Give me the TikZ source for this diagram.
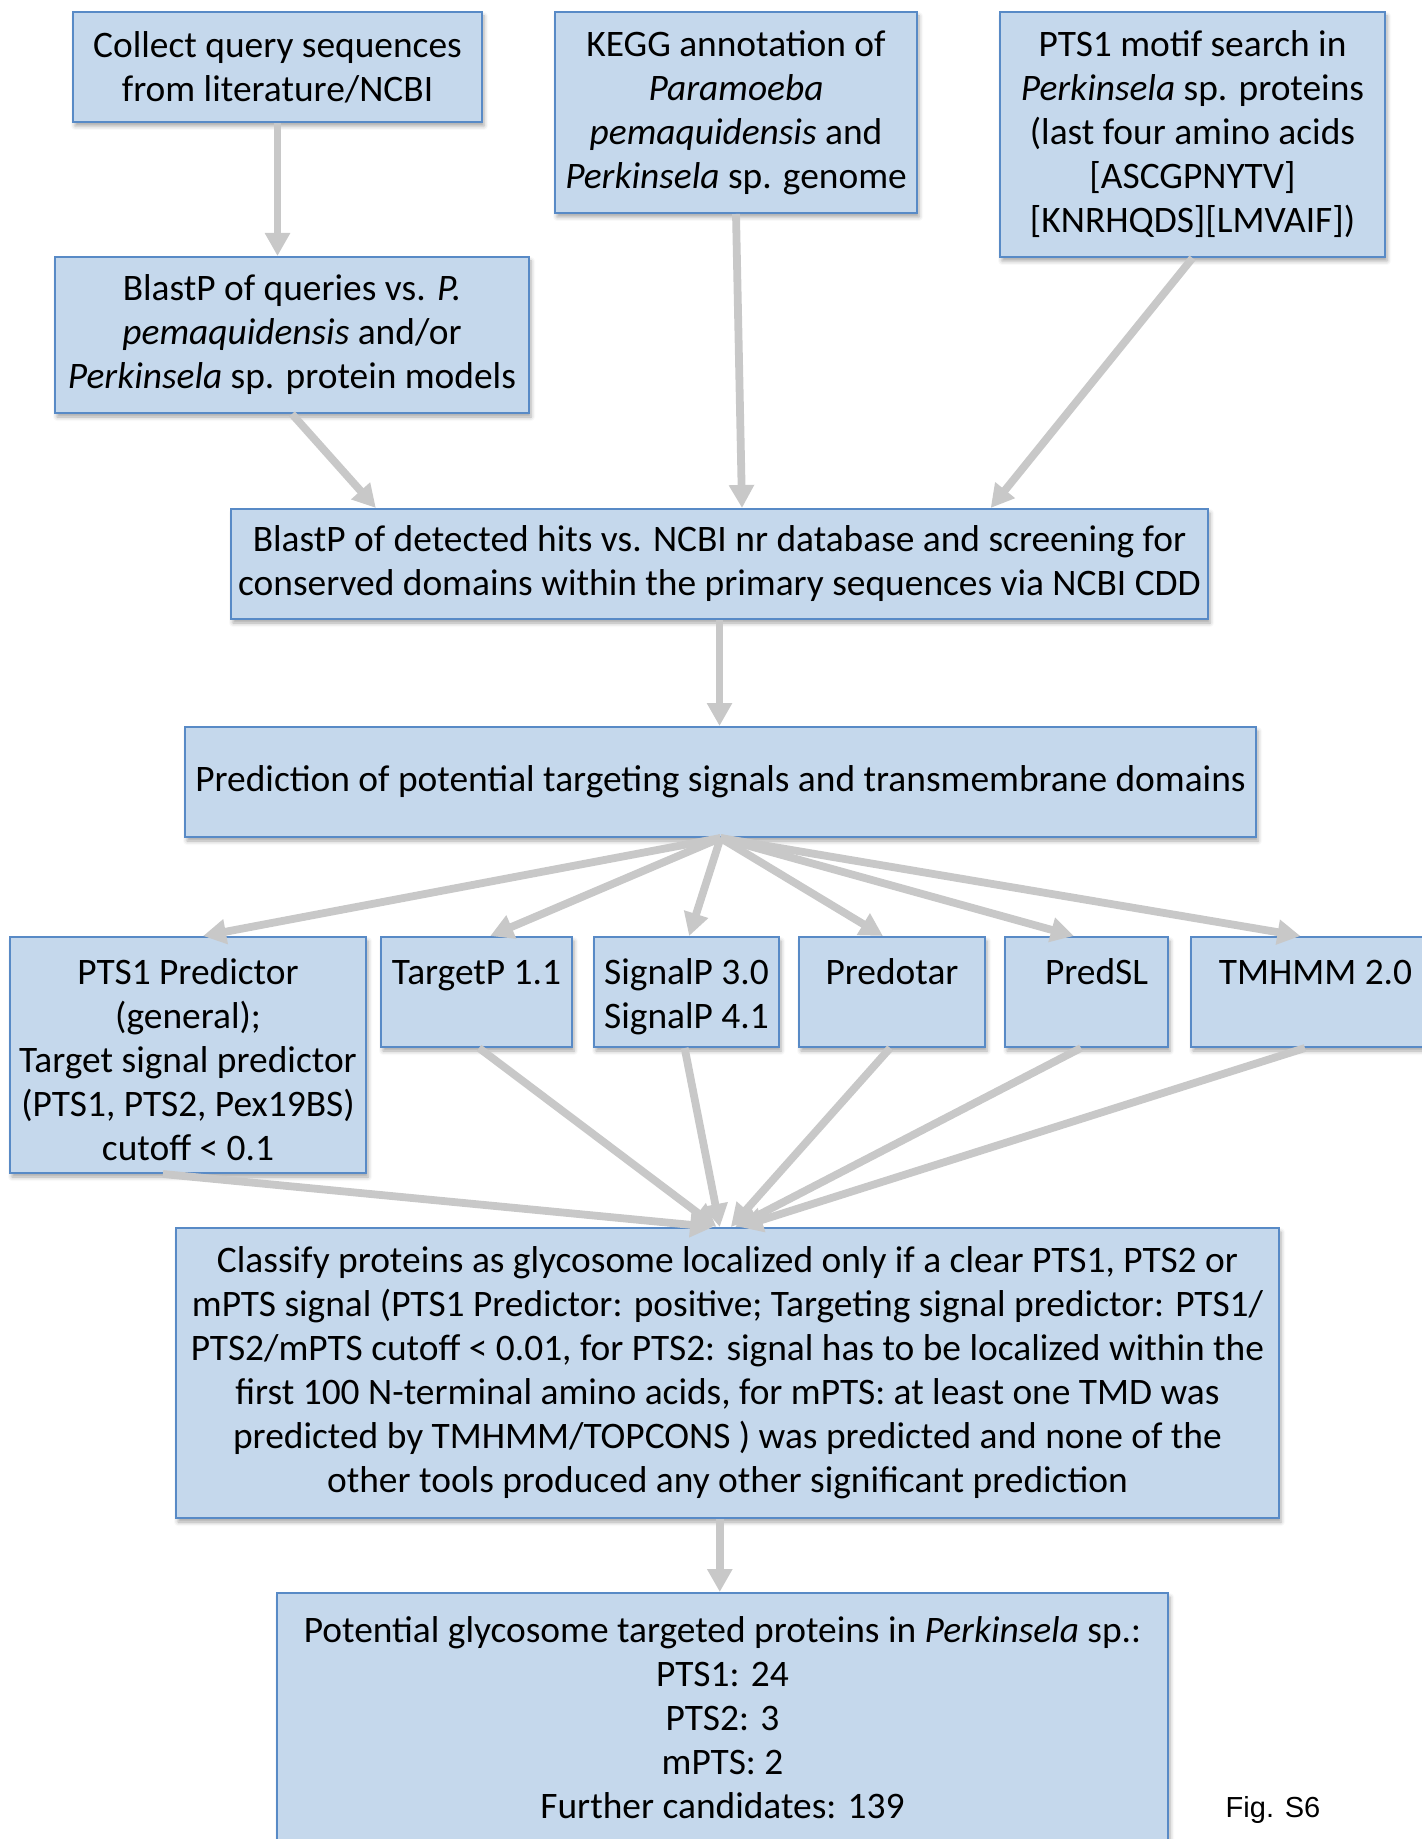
\documentclass[tikz,border=0pt]{standalone}
\usepackage{fontspec}
\setmainfont{Carlito}
\newfontfamily\figfont{Liberation Sans}
\usetikzlibrary{arrows.meta,calc,shadows.blur}

\definecolor{boxfill}{RGB}{197,216,236}
\definecolor{boxline}{RGB}{88,138,198}
\definecolor{arrowgray}{RGB}{200,200,200}

% top-aligned text block for the tool boxes: height, width, text
\newcommand\toptext[3]{\parbox[t][#1][t]{#2}{\centering\rule{0pt}{23.7pt}#3}}

\begin{document}
\begin{tikzpicture}[x=0.5pt,y=-0.5pt,
  box/.style={draw=boxline, fill=boxfill, line width=1pt, inner sep=0pt,
    align=center, font=\fontsize{18.7}{22}\selectfont,
    blur shadow={shadow xshift=1pt, shadow yshift=-2pt, shadow blur radius=2pt, shadow opacity=35}},
  tool/.style={box, anchor=north, minimum height=55pt},
  arr/.style={draw=arrowgray, line width=3.9pt,
    -{Triangle[width=12pt,length=11.5pt]}}]
\useasboundingbox (0,0) rectangle (1421,1839);

% top row
\node[box, minimum width=204.5pt, minimum height=55pt] (A) at (277.5,67)
  {Collect query sequences\\from literature/NCBI};
\node[box, minimum width=237pt, minimum height=78pt] (B) at (292,335)
  {BlastP of queries vs. \textit{P.}\\\textit{pemaquidensis} and/or\\\textit{Perkinsela} sp. protein models};
\node[box, minimum width=181pt, minimum height=100.5pt] (C) at (736,112.5)
  {KEGG annotation of\\\textit{Paramoeba}\\\textit{pemaquidensis} and\\\textit{Perkinsela} sp. genome};
\node[box, minimum width=192.5pt, minimum height=122.5pt] (D) at (1192.5,134.5)
  {PTS1 motif search in\\\textit{Perkinsela} sp. proteins\\(last four amino acids\\{}[ASCGPNYTV]\\{}[KNRHQDS][LMVAIF])};

% screening and prediction
\node[box, minimum width=488.5pt, minimum height=55pt] (E) at (719.5,564)
  {BlastP of detected hits vs. NCBI nr database and screening for\\conserved domains within the primary sequences via NCBI CDD};
\node[box, minimum width=535.5pt, minimum height=55pt] (F) at (720.5,782)
  {Prediction of potential targeting signals and transmembrane domains};

% prediction tools
\node[tool] (t1) at (188,936) {\toptext{118pt}{178pt}{PTS1 Predictor\\(general);\\Target signal predictor\\(PTS1, PTS2, Pex19BS)\\cutoff < 0.1}};
\node[tool] (t2) at (476.5,936) {\toptext{55pt}{95.5pt}{TargetP 1.1}};
\node[tool] (t3) at (686.5,936) {\toptext{55pt}{92.5pt}{SignalP 3.0\\SignalP 4.1}};
\node[tool] (t4) at (892,936) {\toptext{55pt}{93pt}{Predotar}};
\node[tool] (t5) at (1086.5,936) {\toptext{55pt}{81.5pt}{\hspace*{10pt}PredSL}};
\node[tool] (t6) at (1315.5,936) {\toptext{55pt}{124.5pt}{TMHMM 2.0}};

% classification and result
\node[box, minimum width=551.5pt, minimum height=145pt] (G) at (727.5,1373)
  {Classify proteins as glycosome localized only if a clear PTS1, PTS2 or\\
   mPTS signal (PTS1 Predictor: positive; Targeting signal predictor: PTS1/\\
   PTS2/mPTS cutoff < 0.01, for PTS2: signal has to be localized within the\\
   first 100 N-terminal amino acids, for mPTS: at least one TMD was\\
   predicted by TMHMM/TOPCONS ) was predicted and none of the\\
   other tools produced any other significant prediction};
\node[box, minimum width=445.5pt, minimum height=125pt] (H) at (722.5,1718)
  {Potential glycosome targeted proteins in \textit{Perkinsela} sp.:\\PTS1: 24\\PTS2: 3\\mPTS: 2\\Further candidates: 139};

\node[font=\figfont\fontsize{14.5}{17}\selectfont] (fig) at (1273,1810) {Fig. S6};

% connectors
\draw[arr] (A.south) -- (A.south |- B.north);
\draw[arr] (B.south) -- ($(E.north west)!0.149!(E.north east)$);
\draw[arr] (C.south) -- ($(E.north west)!0.523!(E.north east)$);
\draw[arr] (D.south) -- ($(E.north west)!0.777!(E.north east)$);
\draw[arr] (E.south) -- (E.south |- F.north);

\draw[arr] (F.south) -- ($(t1.north west)!0.542!(t1.north east)$);
\draw[arr] (F.south) -- ($(t2.north west)!0.571!(t2.north east)$);
\draw[arr] (F.south) -- ($(t3.north west)!0.514!(t3.north east)$);
\draw[arr] (F.south) -- ($(t4.north west)!0.452!(t4.north east)$);
\draw[arr] (F.south) -- ($(t5.north west)!0.423!(t5.north east)$);
\draw[arr] (F.south) -- ($(t6.north west)!0.44!(t6.north east)$);

\draw[arr] ($(t1.south west)!0.43!(t1.south east)$) -- ($(G.north west)!0.487!(G.north east)$);
\draw[arr] ($(t2.south west)!0.513!(t2.south east)$) -- ($(G.north west)!0.49!(G.north east)$);
\draw[arr] ($(t3.south west)!0.49!(t3.south east)$) -- ($(G.north west)!0.493!(G.north east)$);
\draw[arr] ($(t4.south west)!0.49!(t4.south east)$) -- ($(G.north west)!0.503!(G.north east)$);
\draw[arr] ($(t5.south west)!0.466!(t5.south east)$) -- ($(G.north west)!0.507!(G.north east)$);
\draw[arr] ($(t6.south west)!0.458!(t6.south east)$) -- ($(G.north west)!0.511!(G.north east)$);

\coordinate (gout) at ($(G.south west)!0.493!(G.south east)$);
\draw[arr] (gout) -- (gout |- H.north);
\end{tikzpicture}
\end{document}
